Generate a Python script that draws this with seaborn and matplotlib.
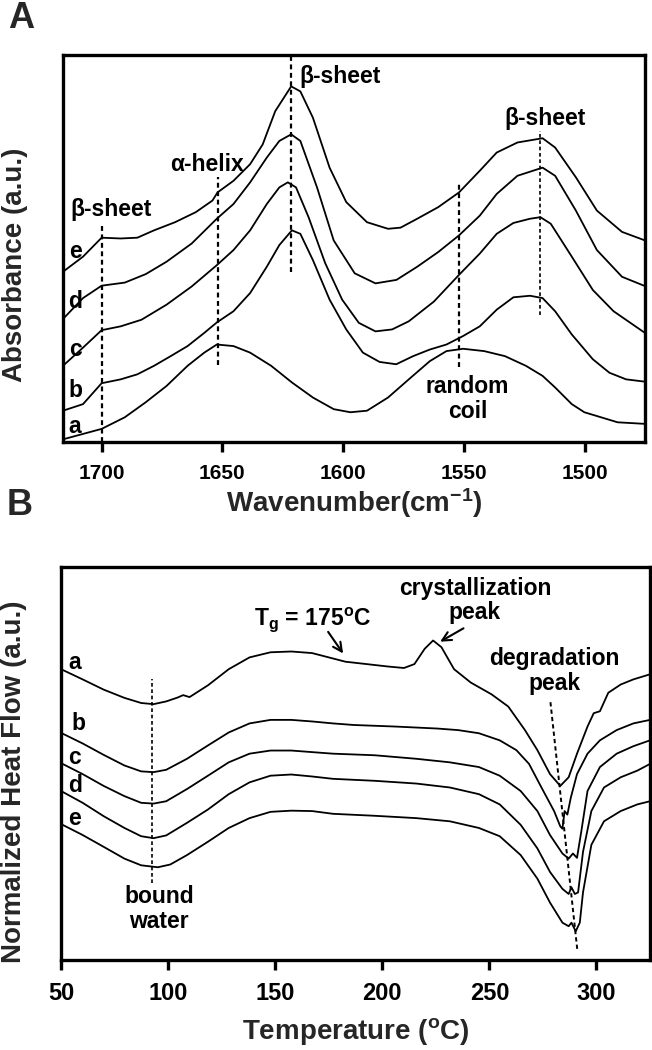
import numpy as np
import pandas as pd
import matplotlib
matplotlib.use("Agg")
import matplotlib.pyplot as plt
import seaborn as sns

# ---- Panel A: FTIR spectra (wavenumber, absorbance a.u.) ----
ftir_a_x = [1716, 1700, 1690.4, 1681.7, 1673.1, 1664.4, 1657.5, 1652.3, 1645.4, 1638.5, 1629.8,
            1621.2, 1612.5, 1603.9, 1597.0, 1590.1, 1581.4, 1572.8, 1564.1, 1557.2, 1550.3,
            1541.6, 1533.0, 1524.3, 1517.4, 1512.2, 1505.3, 1500.1, 1493.2, 1486.3, 1475]
ftir_a_y = [0.7, 3.4, 6.4, 10.3, 14.5, 19.7, 23.1, 25.2, 24.8, 23.1, 19.7,
            15.4, 11.5, 8.5, 7.7, 8.1, 11.5, 16.2, 20.9, 23.5, 24.1,
            23.5, 22.2, 19.7, 17.1, 14.1, 9.8, 7.7, 6.4, 5.1, 4.7]

ftir_b_x = [1716, 1707.7, 1700, 1692.1, 1685.2, 1678.3, 1671.4, 1664.4, 1657.5, 1652.3, 1645.4,
            1638.5, 1631.6, 1626.4, 1621.2, 1617.7, 1612.5, 1605.6, 1598.7, 1591.8, 1584.9,
            1578.0, 1571.0, 1564.1, 1557.2, 1550.3, 1543.4, 1536.4, 1529.5, 1522.6, 1517.4,
            1512.2, 1505.3, 1496.6, 1489.7, 1482.8, 1475]
ftir_b_y = [8.1, 9.8, 15.2, 16.2, 17.5, 19.7, 22.2, 24.8, 28.2, 30.9, 33.8,
            38.5, 45.3, 50.9, 54.7, 53.8, 47.0, 36.8, 29.1, 23.1, 20.7,
            20.1, 22.2, 23.9, 25.2, 27.4, 29.9, 34.2, 37.4, 37.8, 37.2,
            33.8, 27.8, 21.4, 17.9, 16.2, 15.6]

ftir_c_x = [1716, 1707.7, 1700, 1692.1, 1683.5, 1673.1, 1662.7, 1652.3, 1645.4, 1638.5, 1631.6,
            1626.4, 1622.9, 1619.5, 1614.3, 1607.4, 1600.4, 1593.5, 1586.6, 1579.7, 1572.8,
            1562.4, 1552.0, 1543.4, 1536.4, 1529.5, 1522.6, 1518.3, 1514.0, 1505.3, 1496.6,
            1488.0, 1475]
ftir_c_y = [19.7, 24.4, 28.9, 29.9, 31.6, 35.5, 40.2, 45.7, 49.6, 54.7, 61.5,
            65.8, 67.1, 65.8, 58.1, 46.2, 36.8, 30.8, 28.6, 29.1, 31.2,
            36.3, 43.2, 48.7, 53.8, 56.6, 57.7, 58.1, 56.4, 47.9, 39.3,
            33.8, 28.2]

ftir_d_x = [1716, 1707.7, 1700, 1690.4, 1681.7, 1673.1, 1662.7, 1652.3, 1645.4, 1638.5, 1631.6,
            1626.4, 1621.5, 1617.7, 1610.8, 1603.9, 1595.2, 1586.6, 1577.9, 1569.3, 1560.6,
            1552.0, 1543.4, 1536.4, 1527.8, 1517.4, 1512.2, 1503.6, 1494.9, 1484.5, 1475]
ftir_d_y = [31.8, 37.2, 40.4, 41.2, 43.4, 46.6, 51.3, 57.7, 61.5, 67.1, 73.5,
            77.8, 79.5, 77.8, 65.8, 52.1, 43.6, 41.0, 41.9, 45.3, 49.1,
            53.4, 58.5, 64.1, 68.8, 70.9, 68.8, 59.8, 49.6, 42.7, 40.3]

ftir_e_x = [1716, 1707.7, 1700, 1692.1, 1685.2, 1678.3, 1669.6, 1661.0, 1654.1, 1652.0, 1645.4,
            1638.5, 1633.3, 1628.1, 1621.5, 1617.7, 1612.5, 1605.6, 1598.7, 1590.1, 1581.4,
            1576.2, 1569.3, 1560.6, 1552.0, 1543.4, 1536.4, 1527.8, 1517.4, 1512.2, 1503.6,
            1494.9, 1484.5, 1475]
ftir_e_y = [44.0, 47.9, 52.8, 52.6, 52.8, 54.7, 56.8, 59.4, 62.4, 64.5, 67.5,
            71.8, 76.9, 85.5, 91.9, 90.6, 83.8, 70.9, 62.0, 56.8, 55.1,
            55.4, 57.7, 60.7, 64.5, 70.1, 74.8, 77.4, 78.5, 76.1, 68.4,
            59.8, 54.3, 52.1]

ftir_ticks = [1700, 1650, 1600, 1550, 1500]

# ---- Panel B: DSC thermograms (temperature, normalized heat flow a.u.) ----
dsc_a_x = [50, 60.1, 69.9, 79.6, 87.4, 93.2, 99.1, 104.5, 107.0, 110.0, 118.6, 128.3, 138.0,
           147.8, 157.5, 167.2, 175.0, 182.8, 192.6, 202.3, 210.1, 215.0, 219.8, 223.7, 227.6,
           233.5, 241.3, 251.0, 258.8, 266.6, 272.4, 278.3, 283.1, 287.0, 290.9, 295.8, 298.7,
           301.6, 305.5, 311.3, 317.2, 325]
dsc_a_y = [74.0, 71.4, 68.8, 66.7, 65.4, 65.1, 65.8, 66.8, 67.4, 66.9, 69.9, 74.0, 77.0,
           78.3, 78.5, 78.1, 77.0, 75.9, 75.3, 74.7, 74.3, 75.3, 79.2, 81.3, 79.6,
           74.0, 70.6, 67.6, 64.5, 58.5, 53.4, 47.3, 44.3, 46.5, 52.5, 59.4, 62.8,
           63.3, 68.0, 70.1, 71.4, 72.7]

dsc_b_x = [50, 60.1, 69.9, 79.6, 87.4, 93.2, 99.1, 108.8, 118.6, 128.3, 138.0, 147.8, 157.5,
           167.2, 177.0, 186.7, 206.2, 225.6, 235.4, 245.1, 254.8, 262.6, 268.5, 274.3, 280.2,
           283.1, 284.1, 285.1, 286.4, 288.0, 290.9, 295.8, 301.6, 309.4, 317.2, 325]
dsc_b_y = [57.8, 55.1, 52.2, 49.5, 48.0, 47.8, 48.4, 51.2, 54.6, 57.9, 60.2, 61.1, 61.1,
           60.7, 60.2, 59.8, 59.4, 58.9, 58.5, 57.7, 55.9, 53.4, 49.9, 43.9, 37.9,
           34.0, 33.4, 37.9, 37.0, 41.3, 47.3, 52.5, 55.9, 58.5, 60.2, 61.1]

dsc_c_x = [50, 60.1, 69.9, 79.6, 87.4, 93.2, 99.1, 108.8, 118.6, 128.3, 138.0, 147.8, 157.5,
           167.2, 177.0, 196.4, 215.9, 231.5, 245.1, 254.8, 264.6, 272.4, 278.3, 284.1, 287.0,
           289.0, 290.9, 292.9, 295.8, 301.6, 309.4, 317.2, 325]
dsc_c_y = [50.1, 47.3, 44.3, 41.7, 40.0, 39.8, 40.4, 43.5, 46.9, 50.3, 52.5, 53.3, 53.3,
           52.9, 52.5, 52.1, 51.2, 50.3, 49.1, 46.9, 43.0, 37.9, 31.8, 27.1, 25.8,
           27.1, 26.0, 32.7, 43.0, 49.1, 52.5, 54.4, 55.9]

dsc_d_x = [50, 60.1, 69.9, 79.6, 87.4, 93.2, 99.1, 108.8, 118.6, 128.3, 138.0, 147.8, 157.5,
           167.2, 177.0, 196.4, 215.9, 231.5, 245.1, 254.8, 264.6, 272.4, 278.3, 284.1, 287.0,
           288.3, 289.9, 291.4, 293.7, 297.6, 303.5, 311.3, 319.1, 325]
dsc_d_y = [43.0, 40.0, 36.6, 33.6, 31.5, 31.0, 31.7, 34.9, 38.3, 42.2, 45.2, 46.9, 47.2,
           46.7, 46.1, 45.6, 44.9, 43.9, 42.2, 39.6, 34.4, 28.4, 22.4, 18.1, 16.8,
           18.5, 16.8, 17.2, 27.5, 37.9, 43.9, 46.5, 48.2, 49.9]

dsc_e_x = [50, 60.1, 69.9, 79.6, 87.4, 95.2, 101.0, 108.8, 118.6, 128.3, 138.0, 147.8, 157.5,
           167.2, 177.0, 196.4, 215.9, 231.5, 245.1, 254.8, 264.6, 272.4, 278.3, 284.1, 287.0,
           288.3, 290.3, 292.2, 293.7, 297.6, 303.5, 311.3, 319.1, 325]
dsc_e_y = [34.6, 31.8, 28.8, 25.8, 24.1, 23.6, 24.3, 26.7, 30.1, 33.6, 36.1, 37.7, 38.0,
           37.9, 37.2, 36.7, 36.1, 35.3, 33.6, 31.5, 26.7, 20.7, 14.6, 9.5, 8.6,
           9.5, 7.3, 9.5, 17.2, 29.3, 35.3, 37.9, 39.6, 40.4]

dsc_ticks = [50, 100, 150, 200, 250, 300]
sample_names = ["a", "b", "c", "d", "e"]


def to_long(xs, ys, names, xname, yname):
    frames = []
    for x, y, n in zip(xs, ys, names):
        frames.append(pd.DataFrame({xname: x, yname: y, "sample": n}))
    return pd.concat(frames, ignore_index=True)


ftir = to_long([ftir_a_x, ftir_b_x, ftir_c_x, ftir_d_x, ftir_e_x],
               [ftir_a_y, ftir_b_y, ftir_c_y, ftir_d_y, ftir_e_y],
               sample_names, "wavenumber", "absorbance")
dsc = to_long([dsc_a_x, dsc_b_x, dsc_c_x, dsc_d_x, dsc_e_x],
              [dsc_a_y, dsc_b_y, dsc_c_y, dsc_d_y, dsc_e_y],
              sample_names, "temperature", "heatflow")

sns.set_style("white")
plt.rcParams["font.family"] = ["Liberation Sans", "DejaVu Sans"]
plt.rcParams["font.weight"] = "bold"
plt.rcParams["mathtext.fontset"] = "custom"
plt.rcParams["mathtext.rm"] = "Liberation Sans:bold"
plt.rcParams["mathtext.it"] = "Liberation Sans:bold"
plt.rcParams["mathtext.bf"] = "Liberation Sans:bold"
plt.rcParams["mathtext.default"] = "rm"

fig = plt.figure(figsize=(6.52, 10.5), dpi=100)
axA = fig.add_axes([0.0966, 0.579, 0.8926, 0.3686])
axB = fig.add_axes([0.0936, 0.0857, 0.9034, 0.3743])


def style_axes(ax, ticks, labelsize, pad):
    for s in ax.spines.values():
        s.set_visible(True)
        s.set_linewidth(2.4)
        s.set_color("black")
    ax.set_xticks(ticks)
    ax.set_yticks([])
    ax.tick_params(axis="x", direction="out", length=7.5, width=2.4, bottom=True,
                   labelsize=labelsize, pad=pad, colors="black")
    for lab in ax.get_xticklabels():
        lab.set_fontweight("bold")


# ---- Panel A ----
sns.lineplot(data=ftir, x="wavenumber", y="absorbance", units="sample", estimator=None,
             sort=False, color="black", lw=1.3, ax=axA)
axA.set_xlim(1716, 1475)
axA.set_ylim(0, 100)
style_axes(axA, ftir_ticks, 15, 8)

dash = (0, (2.2, 1.6))
axA.plot([1700, 1700], [0, 56.5], color="black", lw=1.6, ls=dash)
axA.plot([1652, 1652], [19.8, 68.6], color="black", lw=1.6, ls=dash)
axA.plot([1621.5, 1621.5], [43.9, 100], color="black", lw=1.6, ls=dash)
axA.plot([1551.8, 1551.8], [19.5, 67.2], color="black", lw=1.6, ls=dash)
axA.plot([1518.5, 1518.5], [32.7, 80.4], color="black", lw=1.2, ls=dash)

tkw = dict(fontsize=16.5, fontweight="bold", color="black")
axA.text(1713, 60, "β-sheet", ha="left", va="center", **tkw)
axA.text(1656.5, 71.8, "α-helix", ha="center", va="center", **tkw)
axA.text(1618, 94.4, "β-sheet", ha="left", va="center", **tkw)
axA.text(1516.5, 83.6, "β-sheet", ha="center", va="center", **tkw)
axA.text(1548.5, 11.1, "random\ncoil", ha="center", va="center", linespacing=1.15, **tkw)
for name, yv in zip(sample_names, [4.0, 13.4, 23.8, 36.3, 49.2]):
    axA.text(1711, yv, name, ha="center", va="center", **tkw)

axA.set_xlabel("Wavenumber(cm$^{-1}$)", fontsize=20, fontweight="bold")
axA.set_ylabel("Absorbance (a.u.)", fontsize=20, fontweight="bold")
axA.xaxis.set_label_coords(0.5, -0.158)
axA.xaxis.label.set_verticalalignment("center")
axA.yaxis.set_label_coords(-0.0825, 0.457)
axA.yaxis.label.set_verticalalignment("center")

# ---- Panel B ----
sns.lineplot(data=dsc, x="temperature", y="heatflow", units="sample", estimator=None,
             sort=False, color="black", lw=1.3, ax=axB)
axB.set_xlim(50, 325)
axB.set_ylim(0, 100)
style_axes(axB, dsc_ticks, 17, 8)

axB.plot([92.5, 92.5], [19.7, 71.4], color="black", lw=1.2, ls=dash)
axB.plot([278.5, 291.0], [65.6, 2.8], color="black", lw=1.4, ls=dash)

axB.text(167.5, 86.5, "T$_{g}$ = 175$^{o}$C", ha="center", va="center", **tkw)
axB.text(243.2, 91.5, "crystallization\npeak", ha="center", va="center", linespacing=1.1, **tkw)
axB.text(280.2, 73.5, "degradation\npeak", ha="center", va="center", linespacing=1.1, **tkw)
axB.text(95.8, 13.0, "bound\nwater", ha="center", va="center", linespacing=1.1, **tkw)
for name, xv, yv in zip(sample_names, [56.2, 58.2, 56.2, 56.6, 56.2],
                        [75.7, 60.2, 51.6, 44.3, 36.1]):
    axB.text(xv, yv, name, ha="center", va="center", **tkw)

arrow = dict(arrowstyle="->", lw=1.5, color="black", mutation_scale=16, shrinkA=0, shrinkB=0)
axB.annotate("", xy=(181.7, 78.0), xytext=(174.7, 83.5), arrowprops=arrow)
axB.annotate("", xy=(227.0, 81.0), xytext=(237.9, 84.4), arrowprops=arrow)

axB.set_xlabel("Temperature ($^{o}$C)", fontsize=20, fontweight="bold")
axB.set_ylabel("Normalized Heat Flow (a.u.)", fontsize=20, fontweight="bold")
axB.xaxis.set_label_coords(0.5, -0.183)
axB.xaxis.label.set_verticalalignment("center")
axB.yaxis.set_label_coords(-0.0798, 0.453)
axB.yaxis.label.set_verticalalignment("center")

# panel letters
fig.text(21 / 652, 1 - 18 / 1050, "A", fontsize=26, fontweight="bold", ha="center", va="center")
fig.text(20 / 652, 1 - 505 / 1050, "B", fontsize=26, fontweight="bold", ha="center", va="center")

fig.savefig("out.png", dpi=100)
